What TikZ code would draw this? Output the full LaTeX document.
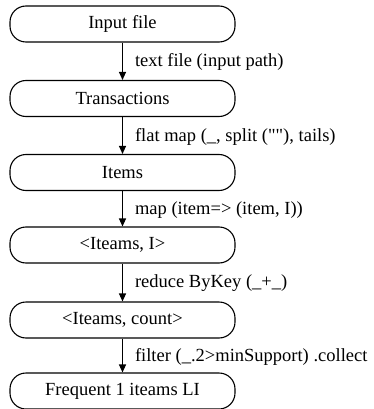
\documentclass[tikz,border=0pt]{standalone}
\usepackage{fontspec}
\newfontfamily\plainserif{Liberation Serif}
\usetikzlibrary{arrows.meta}
\begin{document}
\begin{tikzpicture}[x=1pt,y=-1pt,
  stagebox/.style={draw,line width=1.1pt,rounded corners=16pt,minimum width=225pt,minimum height=36pt,inner sep=0pt,font=\plainserif\fontsize{18.5}{20}\selectfont},
  flow/.style={line width=1.1pt,-{Triangle[length=8pt,width=7pt]}},
  lbl/.style={anchor=west,inner sep=0pt,font=\plainserif\fontsize{18.5}{20}\selectfont}]
\useasboundingbox (0,0) rectangle (374,409);
\node[stagebox] (n1) at (122.5,24) {Input file};
\node[stagebox] (n2) at (122.5,98.5) {Transactions};
\node[stagebox] (n3) at (122.5,172.5) {Items};
\node[stagebox] (n4) at (122.5,245) {<Iteams, I>};
\node[stagebox] (n5) at (122.5,320) {<Iteams, count>};
\node[stagebox] (n6) at (122.5,391) {Frequent 1 iteams LI};
\draw[flow] (n1) -- (n2) node[lbl,midway,xshift=12pt,yshift=-1pt] {text file (input path)};
\draw[flow] (n2) -- (n3) node[lbl,midway,xshift=12pt,yshift=-1pt] {flat map (\_, split (""), tails)};
\draw[flow] (n3) -- (n4) node[lbl,midway,xshift=12pt,yshift=-1pt] {map (item=> (item, I))};
\draw[flow] (n4) -- (n5) node[lbl,midway,xshift=12pt,yshift=-1pt] {reduce ByKey (\_+\_)};
\draw[flow] (n5) -- (n6) node[lbl,midway,xshift=12pt,yshift=-1pt] {filter (\_.2>minSupport) .collect};
\end{tikzpicture}
\end{document}
